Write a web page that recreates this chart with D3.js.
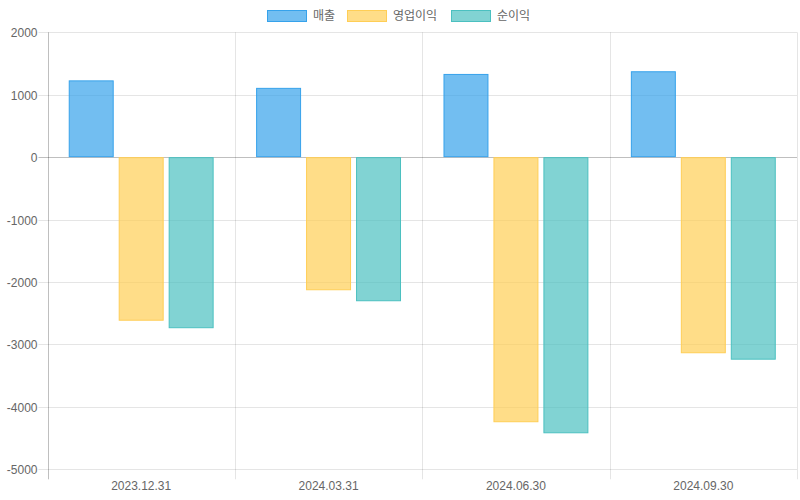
<!DOCTYPE html>
<html><head><meta charset="utf-8">
<script src="https://cdn.jsdelivr.net/npm/d3@7"></script>
<style>body{margin:0;background:#fff;}text{font-family:"Liberation Sans",Arial,"Noto Sans CJK KR",sans-serif;}</style>
</head><body><svg id="c" width="800" height="500"></svg>
<script>
const categories = ["2023.12.31","2024.03.31","2024.06.30","2024.09.30"];
const seriesNames = ["매출","영업이익","순이익"];
const sales = [1230, 1110, 1333, 1376];
const opIncome = [-2620, -2132, -4246, -3141];
const netIncome = [-2740, -2308, -4423, -3244];
const yTicks = [2000,1000,0,-1000,-2000,-3000,-4000,-5000];
const fills = ["rgba(54,162,235,0.7)","rgba(255,206,86,0.7)","rgba(75,192,192,0.7)"];
const strokes = ["rgb(54,162,235)","rgb(255,206,86)","rgb(75,192,192)"];
const series = [sales, opIncome, netIncome];

const svg = d3.select("#c");
const L = 47.5, R = 797, T = 32.3, B = 469.3;
const y = d3.scaleLinear().domain([-5000,2000]).range([B,T]);
const x = d3.scaleBand().domain(categories).range([L,R]).paddingInner(0).paddingOuter(0);
const x1 = d3.scaleBand().domain(seriesNames).range([0,x.bandwidth()]).paddingInner(0.1).paddingOuter(0.1*0.5 + 0.125*1.0);

// grid horizontal
const g = svg.append("g");
yTicks.forEach(t=>{
  const yy = Math.round(y(t))+0.5;
  g.append("line").attr("x1",L-9).attr("x2",R).attr("y1",yy).attr("y2",yy)
    .attr("stroke", t===0 ? "rgba(0,0,0,0.25)" : "rgba(0,0,0,0.1)");
  g.append("text").attr("x",L-10).attr("y",yy).attr("dy","0.35em").attr("text-anchor","end")
    .attr("font-size",12).attr("fill","#666").text(t);
});
// vertical grid
const vx = categories.map(c=>x(c)).concat([R]);
vx.forEach((v,i)=>{
  const xx = Math.round(v)+0.5;
  g.append("line").attr("x1",xx).attr("x2",xx).attr("y1",T).attr("y2",B+10)
    .attr("stroke", i===0 ? "rgba(0,0,0,0.25)" : "rgba(0,0,0,0.1)");
});
categories.forEach(c=>{
  g.append("text").attr("x",x(c)+x.bandwidth()/2).attr("y",490).attr("text-anchor","middle")
    .attr("font-size",12).attr("fill","#666").text(c);
});

// bars
const bw = x.bandwidth()*0.8/3;
series.forEach((s,si)=>{
  svg.append("g").selectAll("rect").data(s).join("rect")
    .attr("x",(d,i)=> x(categories[i]) + x.bandwidth()*0.1 + bw*si + bw*0.05 + 0.5)
    .attr("width", bw*0.9 - 1)
    .attr("y", d=> Math.min(y(d),y(0)) + 0.5)
    .attr("height", d=> Math.abs(y(d)-y(0)) - 1)
    .attr("fill", fills[si]).attr("stroke", strokes[si]).attr("stroke-width",1);
});

// legend
const legendX = [267, 347, 451];
seriesNames.forEach((n,i)=>{
  svg.append("rect").attr("x",legendX[i]+0.5).attr("y",10.5).attr("width",39).attr("height",11)
    .attr("fill",fills[i]).attr("stroke",strokes[i]).attr("stroke-width",1);
  svg.append("text").attr("x",legendX[i]+46).attr("y",16).attr("dy","0.35em")
    .attr("font-size",12).attr("fill","#666").text(n);
});
</script></body></html>
